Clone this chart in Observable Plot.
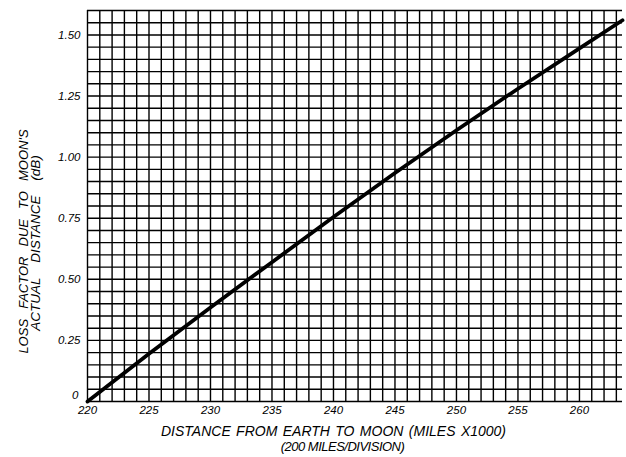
<!DOCTYPE html>
<html>
<head>
<meta charset="utf-8">
<script src="https://cdn.jsdelivr.net/npm/d3@7"></script>
<script src="https://cdn.jsdelivr.net/npm/@observablehq/plot@0.6"></script>
<style>
  html, body { margin: 0; padding: 0; background: #fff; }
  svg { font-family: "Liberation Sans", Arial, sans-serif; font-style: italic; }
</style>
</head>
<body>
<div id="chart"></div>
<script>
// Distance from Earth to Moon (miles x1000) and loss factor (dB)
const distance = [220, 225, 230, 235, 240, 245, 250, 255, 260, 263.5];
const lossDb   = [0, 0.195, 0.385, 0.57, 0.755, 0.935, 1.11, 1.28, 1.445, 1.56];

const xTicks = [220, 225, 230, 235, 240, 245, 250, 255, 260];
const yTicks = [0.25, 0.5, 0.75, 1.0, 1.25, 1.5];
const yZero = [0];
const xGrid = d3.range(220, 264, 1);
const yGrid = d3.range(0, 33, 1).map(i => i * 0.05);

const xTitle = "DISTANCE FROM EARTH TO MOON (MILES X1000)";
const xSubtitle = "(200 MILES/DIVISION)";
const yTitle1 = "LOSS FACTOR DUE TO MOON'S";
const yTitle2 = "ACTUAL DISTANCE (dB)";

const data = distance.map((d, i) => ({d, v: lossDb[i]}));
const yFmt = v => v === 0 ? "0" : d3.format(".2f")(v);

const chart = Plot.plot({
  width: 626,
  height: 457,
  marginLeft: 87,
  marginRight: 4,
  marginTop: 10,
  marginBottom: 56,
  style: {background: "#fff", color: "#000", fontSize: "11px"},
  x: {domain: [220, 263.5], label: null},
  y: {domain: [0, 1.6], label: null},
  marks: [
    Plot.ruleX(xGrid, {stroke: "#000", strokeWidth: 1.4}),
    Plot.ruleY(yGrid, {stroke: "#000", strokeWidth: 1.4}),
    Plot.axisX({ticks: xTicks, tickSize: 0, tickPadding: 4, label: null, fontSize: 11.5}),
    Plot.axisY({ticks: yTicks, tickSize: 0, tickPadding: 7, label: null, fontSize: 11.5, tickFormat: yFmt}),
    Plot.text(yZero, {x: () => 220, y: d => d, text: yFmt, textAnchor: "end", dx: -9, dy: -6, fontSize: 11.5, fill: "#000"}),
    Plot.line(data, {x: "d", y: "v", stroke: "#000", strokeWidth: 3.8}),
    Plot.text([xTitle], {frameAnchor: "bottom", textAnchor: "middle", dx: -21.5, dy: 34, fontSize: 14, fill: "#000"}),
    Plot.text([xSubtitle], {frameAnchor: "bottom", textAnchor: "middle", dx: -12.5, dy: 49, fontSize: 13, fill: "#000"}),
    Plot.text([yTitle1], {frameAnchor: "left", textAnchor: "middle", dx: -64, dy: 35.5, rotate: -90, fontSize: 13, fill: "#000"}),
    Plot.text([yTitle2], {frameAnchor: "left", textAnchor: "middle", dx: -52, dy: 37, rotate: -90, fontSize: 13.5, fill: "#000"})
  ]
});
const sel = d3.select(chart).selectAll("text");
sel.filter(function() { return this.textContent === xTitle; }).style("word-spacing", "1.5px");
sel.filter(function() { return this.textContent === xSubtitle; }).style("letter-spacing", "-0.5px");
sel.filter(function() { return this.textContent === yTitle1; }).style("word-spacing", "6.5px");
sel.filter(function() { return this.textContent === yTitle2; }).style("word-spacing", "11px");
document.getElementById("chart").appendChild(chart);
</script>
</body>
</html>
